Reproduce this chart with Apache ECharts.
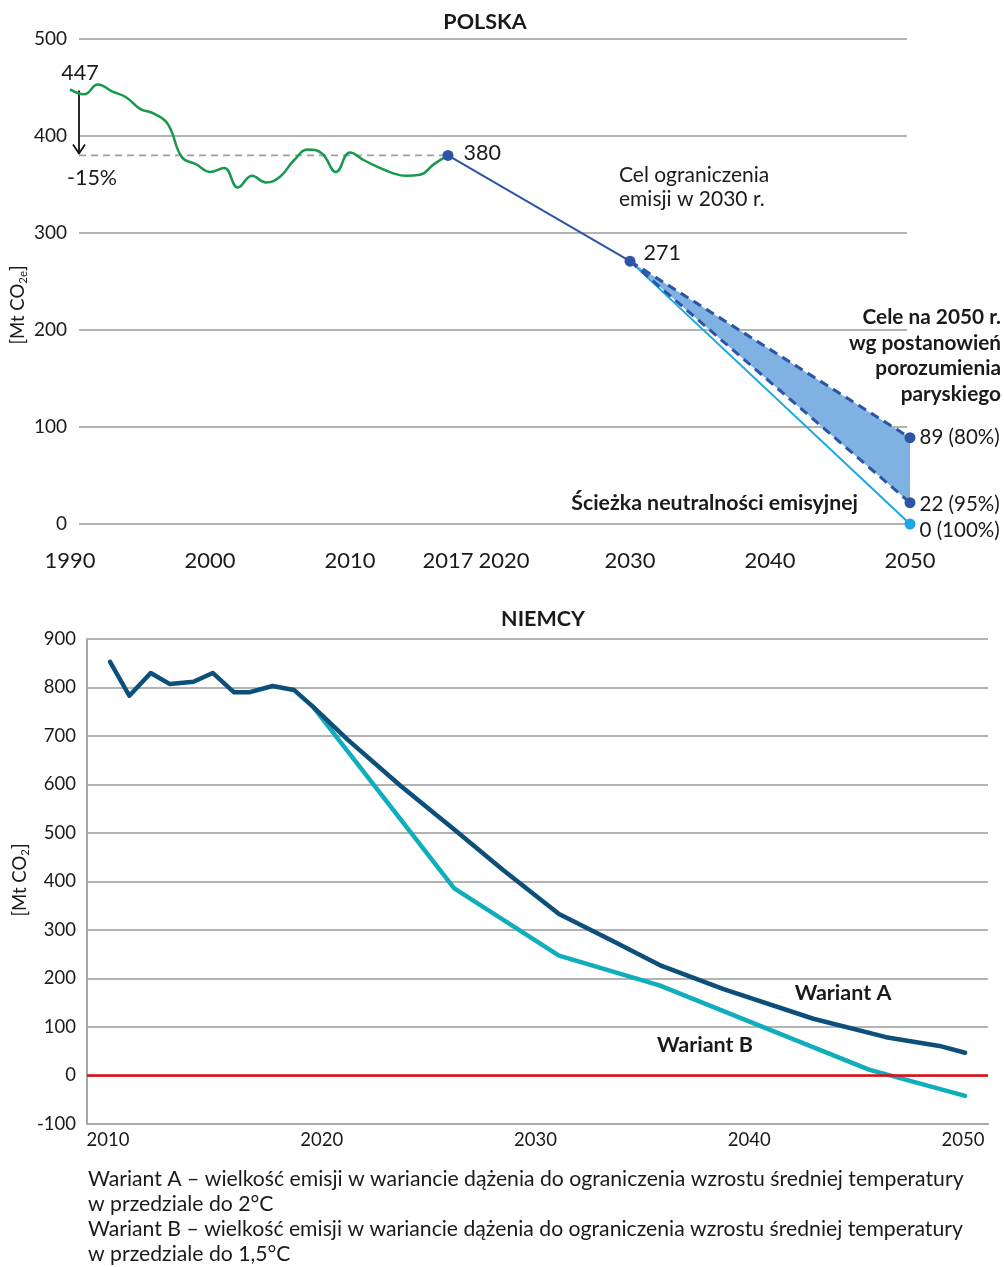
<!DOCTYPE html>
<html>
<head>
<meta charset="utf-8">
<script src="https://cdn.jsdelivr.net/npm/echarts@6/dist/echarts.min.js"></script>
<style>
  html, body { margin: 0; padding: 0; background: #fff; }
  #chart { width: 1004px; height: 1267px; }
</style>
</head>
<body>
<div id="chart"></div>
<script>
// --- dane: Polska, emisje historyczne [Mt CO2e]
const plYears = [1990, 1991, 1992, 1993, 1994, 1995, 1996, 1997, 1998, 1999,
  2000, 2001, 2002, 2003, 2004, 2005, 2006, 2007, 2008, 2009,
  2010, 2011, 2012, 2013, 2014, 2015, 2016, 2017]
const plValues = [448, 443, 453, 446, 440, 428, 423, 412, 378, 371,
  363, 367, 347, 359, 352, 358, 375, 386, 382, 363,
  383, 375, 368, 362, 359, 360, 371, 380]

// cel 2030 i cele 2050
const plTargetYears = [2017, 2030]
const plTargetValues = [380, 271]
const pl2050Years = [2030, 2050]
const pl80 = [271, 89]
const pl95 = [271, 22]
const pl100 = [271, 0]
const plReductions = ['80%', '95%', '100%']
const plXLabels = [1990, 2000, 2010, 2017, 2020, 2030, 2040, 2050]

// --- dane: Niemcy [Mt CO2]
const deYearsA = [2010.1, 2011, 2012, 2012.9, 2014, 2014.9, 2015.9, 2016.6, 2017.7, 2018.7,
  2019.6, 2021.2, 2023.7, 2026.2, 2028.5, 2031.1, 2033.5, 2035.9, 2038.8, 2043,
  2046.4, 2048.9, 2050.1]
const deWariantA = [853, 783, 830, 807, 812, 830, 790, 790, 803, 795,
  760, 693, 597, 507, 423, 333, 280, 226, 178, 117,
  79, 61, 47]
const deYearsB = [2019.6, 2026.2, 2031.1, 2035.8, 2045.6, 2050.1]
const deWariantB = [760, 386, 247, 186, 12, -42]
const deXLabels = [2010, 2020, 2030, 2040, 2050]

const pairs = (xs, ys) => xs.map((x, i) => [x, ys[i]])

const FONT = 'Lato'
const TXT = '#1a1a1a'
const GRIDC = '#b3b3b3'
const C_GREEN = '#17994b'
const C_BLUE = '#2c55a5'
const C_CYAN = '#19a8e2'
const C_FILL = '#7fb2e2'
const C_A = '#0c4f7a'
const C_B = '#10adbc'

// uklad gornego wykresu: dane 1990-2050 od x=70 do x=910, linie siatki 79..907
const pxPerYear = (910 - 70) / 60
const gridStartYear = 1990 + (79 - 70) / pxPerYear
const gridEndYear = 2050 - (910 - 907) / pxPerYear

let chart = echarts.init(document.getElementById('chart'))

const lbl = (extra) => Object.assign({ fontFamily: FONT, color: TXT }, extra)

// pas miedzy sciezka 80% a 95%
const bandData = pl2050Years.map((y, i) => [y, pl95[i], pl80[i]])

let option = {
  animation: false,
  textStyle: { fontFamily: FONT },
  grid: [
    { left: 70, top: 39, width: 840, height: 485 },
    { left: 79, top: 39, width: 828, height: 485 },
    { left: 87, top: 639, width: 901, height: 485 }
  ],
  xAxis: [
    {
      gridIndex: 0, type: 'value', min: 1990, max: 2050,
      axisLine: { show: false }, axisTick: { show: false }, splitLine: { show: false },
      axisLabel: lbl({
        customValues: plXLabels, margin: 26, fontSize: 22,
        formatter: v => v === 2020 ? '{r|2020}' : String(v),
        rich: { r: { padding: [0, 0, 0, 28], fontSize: 22, fontFamily: FONT, color: TXT } }
      })
    },
    {
      gridIndex: 1, type: 'value', min: gridStartYear, max: gridEndYear, show: false
    },
    {
      gridIndex: 2, type: 'value', min: 2009.02, max: 2051.17,
      axisLine: { show: true, onZero: false, lineStyle: { color: '#a8a8a8', width: 2 } },
      axisTick: { show: false }, splitLine: { show: false },
      axisLabel: lbl({ customValues: deXLabels, margin: 7, fontSize: 18.5, formatter: v => String(v) })
    }
  ],
  yAxis: [
    { gridIndex: 0, type: 'value', min: 0, max: 500, show: false },
    {
      gridIndex: 1, type: 'value', min: 0, max: 500, interval: 100,
      axisLine: { show: false }, axisTick: { show: false },
      splitLine: { lineStyle: { color: GRIDC, width: 2 } },
      axisLabel: lbl({ margin: 12, fontSize: 19 })
    },
    {
      gridIndex: 2, type: 'value', min: -100, max: 900, interval: 100,
      axisLine: { show: true, lineStyle: { color: '#a8a8a8', width: 2 } },
      axisTick: { show: false },
      splitLine: { lineStyle: { color: GRIDC, width: 2 } },
      axisLabel: lbl({ margin: 11, fontSize: 18.5 })
    }
  ],
  series: [
    // linia -15% i strzalka
    {
      type: 'line', xAxisIndex: 1, yAxisIndex: 1, silent: true,
      data: [[gridStartYear, plTargetValues[0]], [plTargetYears[0], plTargetValues[0]]],
      symbol: 'none', lineStyle: { color: '#a0a0a0', width: 1.8, type: [7, 5] }
    },
    {
      type: 'custom', xAxisIndex: 1, yAxisIndex: 1, silent: true,
      data: [[gridStartYear, plValues[0] - 1, plTargetValues[0]]],
      renderItem: (params, api) => {
        const p1 = api.coord([api.value(0), api.value(1)])
        const p2 = api.coord([api.value(0), api.value(2)])
        const tip = p2[1] - 2
        return {
          type: 'group', children: [
            { type: 'line', shape: { x1: p1[0], y1: p1[1], x2: p2[0], y2: tip }, style: { stroke: '#111', lineWidth: 1.8 } },
            { type: 'polyline', shape: { points: [[p2[0] - 6, tip - 9], [p2[0], tip], [p2[0] + 6, tip - 9]] }, style: { stroke: '#111', lineWidth: 1.8, fill: null } }
          ]
        }
      }
    },
    // historia Polski
    {
      type: 'line', xAxisIndex: 0, yAxisIndex: 0, data: pairs(plYears, plValues),
      smooth: 0.45, symbol: 'none', lineStyle: { color: C_GREEN, width: 2.5 }
    },
    // pas 80-95%
    {
      type: 'custom', xAxisIndex: 0, yAxisIndex: 0, silent: true,
      data: bandData,
      renderItem: (params, api) => {
        const i = params.dataIndex
        if (i >= bandData.length - 1) return null
        const a = bandData[i], b = bandData[i + 1]
        const pts = [api.coord([a[0], a[2]]), api.coord([b[0], b[2]]), api.coord([b[0], b[1]]), api.coord([a[0], a[1]])]
        return { type: 'polygon', shape: { points: pts }, style: { fill: C_FILL } }
      }
    },
    // sciezka 100%
    {
      type: 'line', xAxisIndex: 0, yAxisIndex: 0,
      data: pairs(pl2050Years, pl100).map((d, i) => i === 0 ? { value: d, symbol: 'none' } : {
        value: d, label: { show: true, formatter: d[1] + ' (' + plReductions[2] + ')' }
      }),
      symbol: 'circle', symbolSize: 11, itemStyle: { color: C_CYAN },
      lineStyle: { color: C_CYAN, width: 2 },
      label: lbl({ position: 'right', distance: 4, offset: [0, 6], fontSize: 20.5 })
    },
    // sciezki 80% i 95%
    {
      type: 'line', xAxisIndex: 0, yAxisIndex: 0,
      data: pairs(pl2050Years, pl95).map((d, i) => i === 0 ? { value: d, symbol: 'none' } : {
        value: d, label: { show: true, formatter: d[1] + ' (' + plReductions[1] + ')' }
      }),
      symbol: 'circle', symbolSize: 11, itemStyle: { color: C_BLUE },
      lineStyle: { color: C_BLUE, width: 3, type: [9, 6] },
      label: lbl({ position: 'right', distance: 4, offset: [0, 2], fontSize: 20.5 })
    },
    {
      type: 'line', xAxisIndex: 0, yAxisIndex: 0,
      data: pairs(pl2050Years, pl80).map((d, i) => i === 0 ? { value: d, symbol: 'none' } : {
        value: d, label: { show: true, formatter: d[1] + ' (' + plReductions[0] + ')' }
      }),
      symbol: 'circle', symbolSize: 11, itemStyle: { color: C_BLUE },
      lineStyle: { color: C_BLUE, width: 3, type: [9, 6] },
      label: lbl({ position: 'right', distance: 4, offset: [0, 0], fontSize: 20.5 })
    },
    // cel 2030
    {
      type: 'line', xAxisIndex: 0, yAxisIndex: 0,
      data: pairs(plTargetYears, plTargetValues).map((d, i) => ({
        value: d, label: { offset: i === 0 ? [0, -2] : [-2, -8] }
      })),
      symbol: 'circle', symbolSize: 11, itemStyle: { color: C_BLUE },
      lineStyle: { color: C_BLUE, width: 2 },
      label: lbl({ show: true, position: 'right', distance: 10, fontSize: 21.5, formatter: p => p.value[1] }),
      z: 5
    },
    // Niemcy
    {
      type: 'line', xAxisIndex: 2, yAxisIndex: 2, data: pairs(deYearsB, deWariantB),
      symbol: 'none', lineStyle: { color: C_B, width: 4.5, cap: 'round', join: 'round' },
      markLine: {
        silent: true, symbol: 'none', label: { show: false },
        lineStyle: { color: '#e30613', width: 2.5, type: 'solid' },
        data: [{ yAxis: 0 }]
      }
    },
    {
      type: 'line', xAxisIndex: 2, yAxisIndex: 2, data: pairs(deYearsA, deWariantA),
      symbol: 'none', lineStyle: { color: C_A, width: 4.5, cap: 'round', join: 'round' }
    }
  ],
  graphic: [
    { type: 'text', x: 485, y: 22, style: { text: 'POLSKA', font: 'bold 21.5px Lato', fill: TXT, align: 'center', verticalAlign: 'middle' } },
    { type: 'text', x: 543, y: 619, style: { text: 'NIEMCY', font: 'bold 21.5px Lato', fill: TXT, align: 'center', verticalAlign: 'middle' } },
    {
      type: 'text', x: 18, y: 305, rotation: Math.PI / 2,
      style: {
        text: '{a|[Mt CO}{s|2e}{a|]}', align: 'center', verticalAlign: 'middle',
        rich: { a: { fontSize: 18.5, fontFamily: FONT, fill: TXT, lineHeight: 22 }, s: { fontSize: 11.5, fontFamily: FONT, fill: TXT, verticalAlign: 'bottom', lineHeight: 22 } }
      }
    },
    {
      type: 'text', x: 20, y: 880, rotation: Math.PI / 2,
      style: {
        text: '{a|[Mt CO}{s|2}{a|]}', align: 'center', verticalAlign: 'middle',
        rich: { a: { fontSize: 18.5, fontFamily: FONT, fill: TXT, lineHeight: 22 }, s: { fontSize: 11.5, fontFamily: FONT, fill: TXT, verticalAlign: 'bottom', lineHeight: 22 } }
      }
    },
    { type: 'text', x: 80, y: 73, style: { text: '447', font: '21.5px Lato', fill: TXT, align: 'center', verticalAlign: 'middle' } },
    { type: 'text', x: 92, y: 178, style: { text: '-15%', font: '21.5px Lato', fill: TXT, align: 'center', verticalAlign: 'middle' } },
    { type: 'text', x: 619, y: 187, style: { text: 'Cel ograniczenia\nemisji w 2030 r.', font: '21px Lato', fill: TXT, align: 'left', verticalAlign: 'middle', lineHeight: 24 } },
    { type: 'text', x: 1001, y: 356, style: { text: 'Cele na 2050 r.\nwg postanowień\nporozumienia\nparyskiego', font: 'bold 20.8px Lato', fill: TXT, align: 'right', verticalAlign: 'middle', lineHeight: 25.5 } },
    { type: 'text', x: 858, y: 503, style: { text: 'Ścieżka neutralności emisyjnej', font: 'bold 21.3px Lato', fill: TXT, align: 'right', verticalAlign: 'middle' } },
    { type: 'text', x: 843, y: 993, style: { text: 'Wariant A', font: 'bold 21.5px Lato', fill: TXT, align: 'center', verticalAlign: 'middle' } },
    { type: 'text', x: 705, y: 1045, style: { text: 'Wariant B', font: 'bold 21.5px Lato', fill: TXT, align: 'center', verticalAlign: 'middle' } },
    {
      type: 'text', x: 88, y: 1217,
      style: {
        text: 'Wariant A – wielkość emisji w wariancie dążenia do ograniczenia wzrostu średniej temperatury\nw przedziale do 2°C\nWariant B – wielkość emisji w wariancie dążenia do ograniczenia wzrostu średniej temperatury\nw przedziale do 1,5°C',
        font: '21.2px Lato', fill: TXT, align: 'left', verticalAlign: 'middle', lineHeight: 25
      }
    }
  ]
}

chart.setOption(option)
</script>
</body>
</html>
